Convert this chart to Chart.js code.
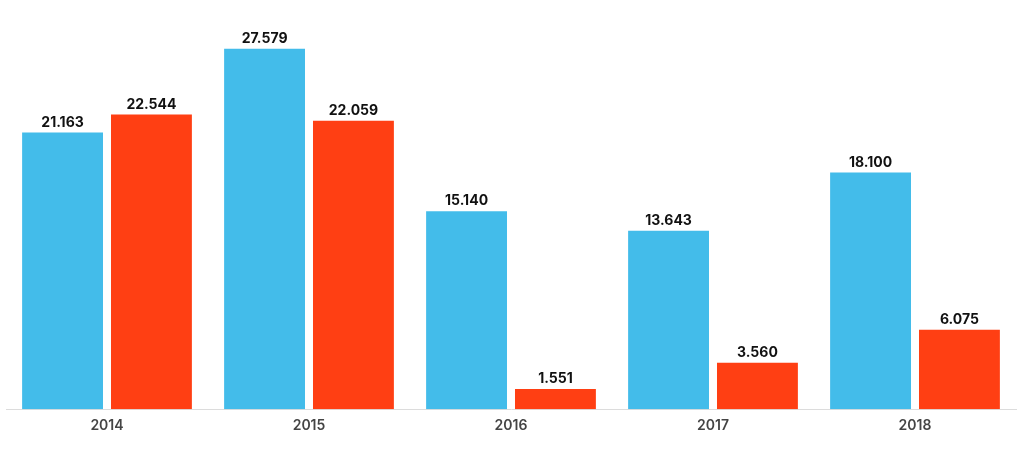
<!DOCTYPE html>
<html lang="de">
<head>
  <meta charset="UTF-8">
  <title>Balkendiagramm 2014-2018</title>
  <script src="https://cdn.jsdelivr.net/npm/chart.js"></script>
  <style>
    body {
      margin: 0;
      background: #fff;
    }
    #wrap {
      width: 1024px;
      height: 456px;
    }
  </style>
</head>
<body>

<div id="wrap">
  <canvas id="grafico" width="1024" height="456"></canvas>
</div>

<script>
  var jahre = ['2014', '2015', '2016', '2017', '2018'];
  var serieBlau = [21.163, 27.579, 15.140, 13.643, 18.100];
  var serieRot = [22.544, 22.059, 1.551, 3.560, 6.075];

  // Werte über den Balken schreiben
  var wertePlugin = {
    id: 'werte',
    afterDatasetsDraw: function(chart) {
      var ctx = chart.ctx;
      ctx.save();
      ctx.font = 'bold 14px Inter, "DejaVu Sans", sans-serif';
      ctx.fillStyle = '#111';
      ctx.textAlign = 'center';
      ctx.textBaseline = 'bottom';
      chart.data.datasets.forEach(function(ds, i) {
        chart.getDatasetMeta(i).data.forEach(function(bar, j) {
          ctx.fillText(ds.data[j].toFixed(3), bar.x, bar.y - 3);
        });
      });
      ctx.restore();
    }
  };

  var ctx = document.getElementById('grafico').getContext('2d');

  new Chart(ctx, {
    type: 'bar',
    data: {
      labels: jahre,
      datasets: [
        {
          data: serieBlau,
          backgroundColor: '#43BCEA',
          categoryPercentage: 0.88,
          barPercentage: 0.91
        },
        {
          data: serieRot,
          backgroundColor: '#FF3F13',
          categoryPercentage: 0.88,
          barPercentage: 0.91
        }
      ]
    },
    options: {
      responsive: false,
      animation: false,
      layout: {
        padding: { left: 6, right: 8, top: 17, bottom: 22 }
      },
      plugins: {
        legend: { display: false },
        tooltip: { enabled: false }
      },
      scales: {
        x: {
          grid: { display: false },
          border: { display: true, color: '#dcdcdc', width: 1 },
          ticks: {
            color: '#444',
            padding: 0,
            font: { family: 'Inter, "DejaVu Sans", sans-serif', size: 14, weight: '600' }
          }
        },
        y: {
          display: false,
          min: 0,
          max: 30
        }
      }
    },
    plugins: [wertePlugin]
  });
</script>

</body>
</html>
